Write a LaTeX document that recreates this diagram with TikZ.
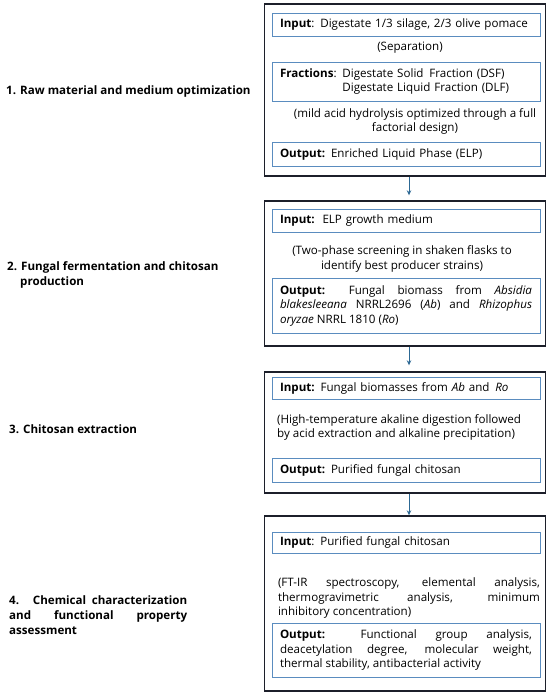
\documentclass[tikz,border=0pt]{standalone}
\usepackage{fontspec}
\setmainfont{Open Sans}
\usepackage{xcolor}
\usetikzlibrary{arrows.meta}
\definecolor{framecol}{HTML}{1C1F2A}
\definecolor{boxcol}{HTML}{5A8CBF}
\definecolor{arrowcol}{HTML}{2C6894}

\begin{document}
\begin{tikzpicture}[x=1pt,y=-1pt,
		font=\fontsize{11.6}{14.5}\selectfont,
		frame/.style={draw=framecol, line width=1.4pt, minimum width=281pt},
		inbox/.style={draw=boxcol, line width=0.8pt, inner xsep=8pt, inner ysep=0pt, text width=252pt, align=left, minimum width=268pt},
		note/.style={inner sep=0pt, align=center},
		stage/.style={inner sep=0pt, anchor=west, align=left, font=\fontsize{11.6}{15}\selectfont\bfseries},
		arr/.style={draw=arrowcol, line width=0.9pt, -{Stealth[length=5pt,width=4.5pt]}}]
		\useasboundingbox (0,0) rectangle (550,695);

		\node[frame, minimum height=172pt] (s1) at (405,90) {};
		\node[inbox, minimum height=23pt] (in1) at (406,24.5) {\textbf{Input}: Digestate 1/3 silage, 2/3 olive pomace};
		\node[note] (sep) at (410,48) {(Separation)};
		\node[inbox, minimum height=39pt] (frac) at (406,81.5) {\textbf{Fractions}: Digestate Solid\, Fraction (DSF)\\\phantom{\textbf{Fractions}: }Digestate Liquid Fraction (DLF)};
		\node[note] (hyd) at (415,121.5) {(mild acid hydrolysis optimized through a full\\factorial design)};
		\node[inbox, minimum height=24pt] (out1) at (406,154) {\textbf{Output:} Enriched Liquid Phase (ELP)};

		\node[frame, minimum height=145pt] (s2) at (405,273.5) {};
		\node[inbox, minimum height=23pt] (in2) at (406,220.5) {\textbf{Input:}\, ELP growth medium};
		\node[note] (scr) at (402,259) {(Two-phase screening in shaken flasks to\\identify best producer strains)};
		\node[inbox, minimum height=55pt, align=justify] (out2) at (406,305.5) {\textbf{Output:} Fungal biomass from \emph{Absidia}\linebreak \emph{blakesleeana} NRRL2696 (\emph{Ab}) and \emph{Rhizophus}\linebreak \emph{oryzae} NRRL 1810 (\emph{Ro})};

		\node[frame, minimum height=121pt] (s3) at (405,432.5) {};
		\node[inbox, minimum height=22pt] (in3) at (406,388) {\textbf{Input:} Fungal biomasses from \emph{Ab} and\, \emph{Ro}};
		\node[note, align=left, anchor=west] (dig) at (277,427.5) {(High-temperature akaline digestion followed\\by acid extraction and alkaline precipitation)};
		\node[inbox, minimum height=24pt] (out3) at (406,470) {\textbf{Output:} Purified fungal chitosan};

		\node[frame, minimum height=175pt] (s4) at (405,603.5) {};
		\node[inbox, minimum height=21pt] (in4) at (406,542.5) {\textbf{Input}: Purified fungal chitosan};
		\node[note, align=justify, text width=262pt] (ana) at (409,598) {(FT-IR spectroscopy, elemental analysis,\linebreak thermogravimetric analysis, minimum\linebreak inhibitory concentration)};
		\node[inbox, minimum height=54pt, align=justify] (out4) at (406,650) {\textbf{Output:} Functional group analysis,\linebreak deacetylation degree, molecular weight,\linebreak thermal stability, antibacterial activity};

		\node[stage] (st1) at (6,91) {1. Raw material and medium optimization};
		\node[stage] (st2) at (7,274.5) {2. Fungal fermentation and chitosan\\\hspace*{13pt}production};
		\node[stage] (st3) at (9,429) {3. Chitosan extraction};
		\node[stage, text width=178pt, align=justify] (st4) at (9,615.5) {4.\, Chemical characterization\linebreak and functional property\linebreak assessment};

		\draw[arr, shorten >=5pt] ([xshift=4pt]s1.south) -- ([xshift=4pt]s2.north);
		\draw[arr, shorten >=6pt] ([xshift=4pt]s2.south) -- ([xshift=4pt]s3.north);
		\draw[arr] ([xshift=4pt]s3.south) -- ([xshift=4pt]s4.north);
	\end{tikzpicture}
\end{document}
